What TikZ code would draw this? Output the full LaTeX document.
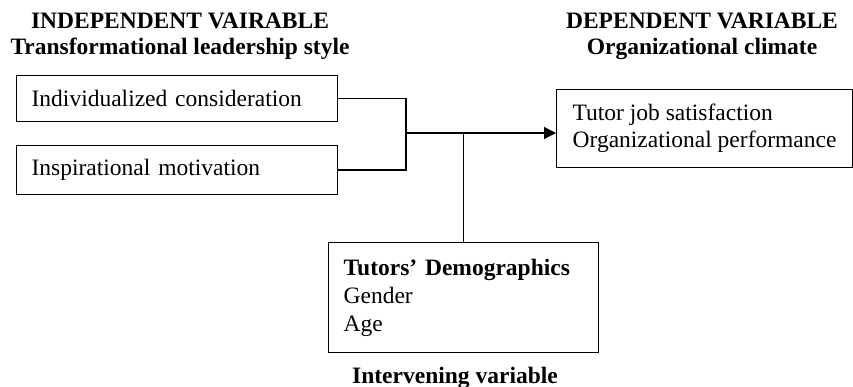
\documentclass[tikz,border=0pt]{standalone}
\usepackage{fontspec}
\setmainfont{Liberation Serif}
\usetikzlibrary{arrows.meta}
\begin{document}
\begin{tikzpicture}[x=1pt,y=-1pt,
  every node/.style={font=\fontsize{23.5}{27}\selectfont},
  varbox/.style={draw, line width=1.3pt, align=left, anchor=north west, inner ysep=0pt},
  title/.style={font=\fontsize{23.5}{26}\selectfont\bfseries, align=center, anchor=base},
  link/.style={line width=1.3pt}
]
\useasboundingbox (0,0) rectangle (853,387);
% titles (anchor base = baseline of last line)
\node[title] (t1) at (180,55) {INDEPENDENT VAIRABLE\\Transformational leadership style};
\node[title] (t2) at (702,55) {DEPENDENT VARIABLE\\Organizational climate};
% boxes
\node[varbox, text width=291pt, inner xsep=15pt, minimum height=46pt] (b1) at (16,75) {Individualized consideration};
\node[varbox, text width=291pt, inner xsep=15pt, minimum height=49pt] (b2) at (16,145) {Inspirational motivation};
\node[varbox, inner xsep=16pt, minimum height=78pt] (b3) at (556,89) {Tutor job satisfaction\\Organizational performance};
\node[varbox, text width=240pt, inner xsep=15pt, minimum height=110pt,
      font=\fontsize{23.5}{28}\selectfont] (b4) at (328,242) {\textbf{Tutors’ Demographics}\\Gender\\Age};
\node[title] (t3) at (455,383) {Intervening variable};
% connectors
\coordinate (j) at (406,133);
\draw[link] (b1.east) -| (j) |- (b2.east);
\draw[link, -{Triangle[length=12pt,width=12pt]}] (j) -- (j -| b3.west);
\draw[link] (b4.north) -- (b4.north |- j);
\end{tikzpicture}
\end{document}
